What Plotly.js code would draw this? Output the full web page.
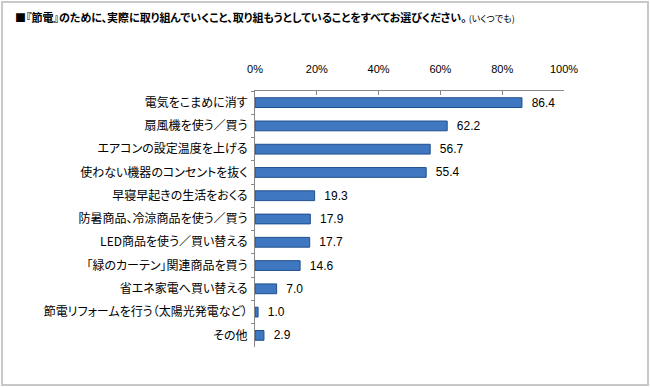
<!DOCTYPE html>
<html><head><meta charset="utf-8">
<script src="https://cdn.plot.ly/plotly-3.0.1.min.js"></script>
<style>
html,body{margin:0;padding:0;background:#fff;}
#wrap{position:relative;width:650px;height:387px;}
#chart{width:650px;height:387px;}
#frame{position:absolute;left:1px;top:1px;width:644px;height:381px;border:2px solid #c8c8c8;pointer-events:none;}
#chart text{font-feature-settings:"palt";}
</style></head>
<body>
<div id="wrap"><div id="chart"></div><div id="frame"></div></div>
<script>
const categories = [
  "電気をこまめに消す",
  "扇風機を使う／買う",
  "エアコンの設定温度を上げる",
  "使わない機器のコンセントを抜く",
  "早寝早起きの生活をおくる",
  "防暑商品、冷涼商品を使う／買う",
  "LED商品を使う／買い替える",
  "「緑のカーテン」関連商品を買う",
  "省エネ家電へ買い替える",
  "節電リフォームを行う（太陽光発電など）",
  "その他"
];
const values = [86.4, 62.2, 56.7, 55.4, 19.3, 17.9, 17.7, 14.6, 7.0, 1.0, 2.9];
const tickVals = [0, 20, 40, 60, 80, 100];
const tickText = ["0%", "20%", "40%", "60%", "80%", "100%"];

const font = "'Noto Sans CJK JP', 'Noto Sans', sans-serif";
const numFont = "'Liberation Sans', Arial, sans-serif";

const trace = {
  type: "bar",
  orientation: "h",
  y: categories,
  x: values,
  width: 0.42,
  marker: {color: "#3f78c0", line: {color: "#1f4f8e", width: 1}},
  text: values.map(v => "\u00a0\u00a0" + v.toFixed(1)),
  textposition: "outside",
  constraintext: "none",
  textfont: {family: numFont, size: 12, color: "#000"},
  cliponaxis: false,
  hoverinfo: "skip"
};

const layout = {
  width: 650, height: 387,
  margin: {l: 255, r: 86, t: 91, b: 40},
  paper_bgcolor: "#fff", plot_bgcolor: "#fff",
  showlegend: false,
  title: {
    text: "<b>■『節電』のために、実際に取り組んでいくこと、取り組もうとしていることをすべてお選びください。</b><span style='font-size:9px'> (いくつでも)</span>",
    x: 15/650, xanchor: "left", xref: "container",
    y: 1 - 18/387, yanchor: "middle", yref: "container",
    font: {family: font, size: 11, color: "#000"}
  },
  xaxis: {
    side: "top", range: [0, 100],
    tickvals: tickVals, ticktext: tickText,
    ticks: "inside", ticklen: 4, tickcolor: "#888",
    showline: true, linecolor: "#888", linewidth: 1,
    showgrid: false, zeroline: false,
    tickfont: {family: numFont, size: 11, color: "#000"},
    ticklabelstandoff: 13,
    fixedrange: true
  },
  yaxis: {
    autorange: "reversed",
    showline: true, linecolor: "#888", linewidth: 1,
    ticks: "outside", tickson: "boundaries", ticklen: 3, tickcolor: "#888",
    showgrid: false,
    tickfont: {family: font, size: 12, color: "#000"},
    ticklabelstandoff: 4,
    fixedrange: true
  }
};

Plotly.newPlot("chart", [trace], layout, {displayModeBar: false, staticPlot: true});
</script>
</body></html>
